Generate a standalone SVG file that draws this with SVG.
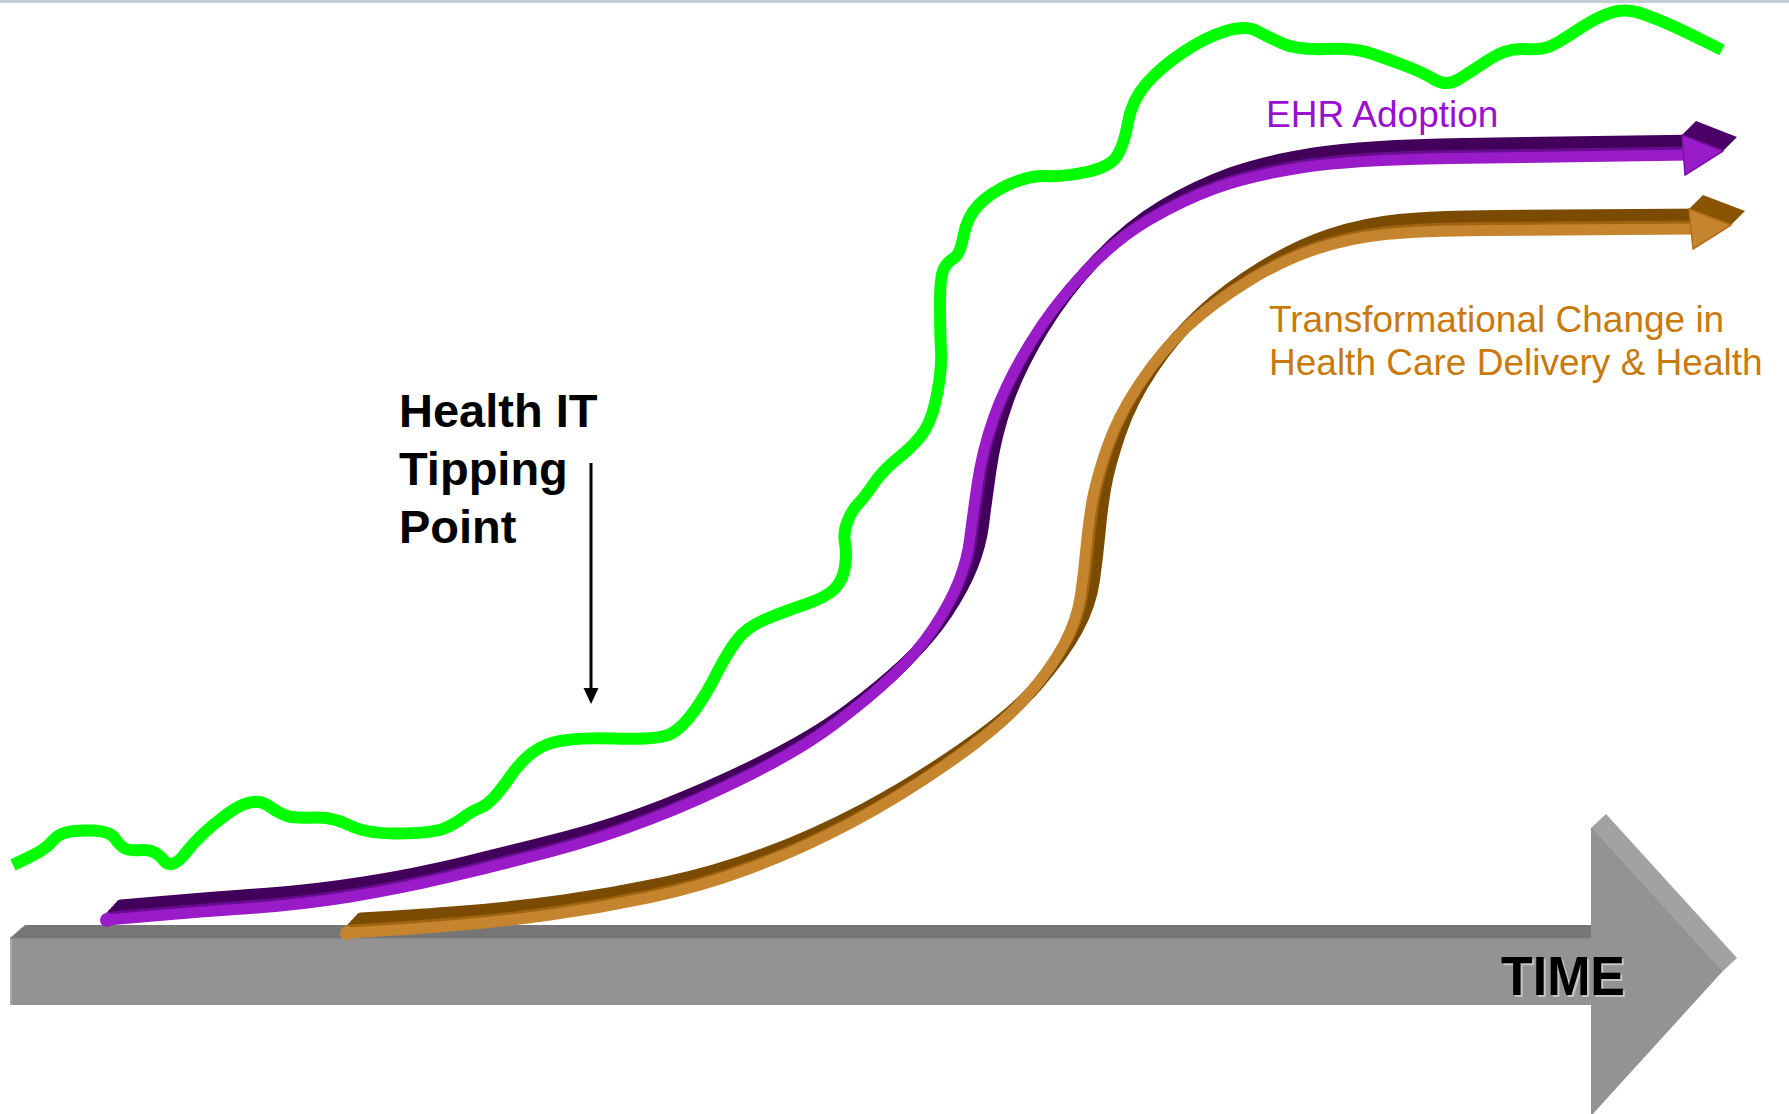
<svg xmlns="http://www.w3.org/2000/svg" xmlns:xlink="http://www.w3.org/1999/xlink" width="1789" height="1114" viewBox="0 0 1789 1114">
  <style>
    .lbl { font-family: "Liberation Sans", Arial, sans-serif; }
    .ehr { fill: #9a10cf; font-size: 37px; }
    .chg { fill: #c97a0c; font-size: 37px; }
    .tip { fill: #000; font-size: 47px; font-weight: bold; }
    .time { font-size: 55px; font-weight: bold; }
    .rib { fill: none; stroke-width: 11; stroke-linecap: round; stroke-linejoin: round; }
    .pdark { stroke: #42005a; }
    .pmid { stroke: #680c90; }
    .plight { stroke: #9a1cc8; }
    .odark { stroke: #7a4b00; }
    .omid { stroke: #a0640f; }
    .olight { stroke: #c5852f; }
  </style>
  <defs>
    <!-- front-face centre lines of the two ribbons -->
    <path id="ehrPath" d="M107,920 L153.5,916 Q200,912 250,908.5 Q300,905 350,897 Q400,889 450,877 Q500,865 550,852 Q600,839 650,819.5 Q700,800 750,775 Q800,750 833.5,725 Q867,700 892,676.5 Q917,653 933.5,628 Q950,603 958.5,581.5 Q967,560 969.5,540 Q972,520 977,485 Q982,450 994,416.5 Q1006,383 1029,345 Q1052,307 1083.5,273.5 Q1115,240 1149,220 Q1183,200 1216.5,188 Q1250,176 1300,168 Q1350,160 1450,158.5 Q1550,157 1690,155"/>
    <path id="chgPath" d="M347,933 L373.5,931.5 Q400,930 450,926 Q500,922 550,915 Q600,908 650,897.5 Q700,887 750,868.5 Q800,850 850,823.5 Q900,797 950,762 Q1000,727 1025,698.5 Q1050,670 1063.5,645 Q1077,620 1080.5,595 Q1084,570 1086,547.5 Q1088,525 1091.5,504 Q1095,483 1106,450 Q1117,417 1139.5,383.5 Q1162,350 1187.5,326.5 Q1213,303 1248,281.5 Q1283,260 1316.5,249 Q1350,238 1385,234.5 Q1420,231 1485,230.5 Q1550,230 1696,229"/>
  </defs>

  <rect x="0" y="0" width="1789" height="1114" fill="#ffffff"/>
  <rect x="0" y="0" width="1789" height="3" fill="#c5cdd9"/>

  <!-- time axis: extruded block arrow -->
  <g id="time-axis">
    <polygon points="10,938 25,925 1606,925 1591,938" fill="#767676"/>
    <polygon points="1591,828 1606,814 1737,958 1722,972" fill="#a2a2a2"/>
    <polygon points="10,938 1591,938 1591,828 1722,972 1591,1116 1591,1005 10,1005" fill="#939393"/>
    <line x1="11" y1="938" x2="11" y2="1005" stroke="#a8a8a8" stroke-width="2"/>
    <line x1="10" y1="938.5" x2="1591" y2="938.5" stroke="#8a8a8a" stroke-width="1"/>
    <line x1="1591" y1="828" x2="1722" y2="972" stroke="#8a8a8a" stroke-width="1"/>
    <text class="lbl time" x="1503" y="997" fill="#c4c4c4" textLength="124" lengthAdjust="spacingAndGlyphs">TIME</text>
    <text class="lbl time" x="1501" y="995" fill="#000" textLength="124" lengthAdjust="spacingAndGlyphs">TIME</text>
  </g>

  <!-- green trend line -->
  <g id="trend">
    <path d="M13,865 L29.5,857 Q46,849 51.5,842 Q57,835 66,832.5 Q75,830 92.5,830.5 Q110,831 115,838.5 Q120,846 125,848.5 Q130,851 142.5,850 Q155,849 163.5,860 Q172,871 186,852.5 Q200,834 226.5,814.5 Q253,795 268,805.5 Q283,816 291.5,817 Q300,818 316.5,817.5 Q333,817 350,825.5 Q367,834 400,833.5 Q433,833 444,828.5 Q455,824 462.5,818 Q470,812 481,807.5 Q492,803 509.5,777.5 Q527,752 547,744.5 Q567,737 613.5,738.5 Q660,740 671.5,733.5 Q683,727 695,710 Q707,693 717,673 Q727,653 737,640 Q747,627 765,619.5 Q783,612 805,604.5 Q827,597 835,588.5 Q843,580 845,566.5 Q847,553 845,543 Q843,533 847.5,521.5 Q852,510 858,504 Q864,498 873.5,484 Q883,470 900,456.5 Q917,443 925,430 Q933,417 937.5,392 Q942,367 941,350 Q940,333 940,305 Q940,277 943.5,269.5 Q947,262 953.5,258.5 Q960,255 963.5,236 Q967,217 978.5,205 Q990,193 1010,184 Q1030,175 1046.5,176 Q1063,177 1086.5,172 Q1110,167 1117,156 Q1124,145 1128,122.5 Q1132,100 1146.5,83.5 Q1161,67 1183.5,52 Q1206,37 1226,31 Q1246,25 1257,31 Q1268,37 1282.5,43.5 Q1297,50 1325.5,49 Q1354,48 1368,52.5 Q1382,57 1402,64.5 Q1422,72 1434.5,79.5 Q1447,87 1460,78.5 Q1473,70 1490,59 Q1507,48 1524,49 Q1541,50 1549.5,46.5 Q1558,43 1577.5,30 Q1597,17 1611.5,12.5 Q1626,8 1643,14 Q1660,20 1674,26.5 Q1688,33 1705,41.5 L1722,50" fill="none" stroke="#00ff00" stroke-width="12" stroke-linejoin="round"/>
  </g>

  <!-- transformational change ribbon (extruded up-right) -->
  <g id="change-ribbon">
    <use href="#chgPath" class="rib odark" transform="translate(14,-15)"/>
    <use href="#chgPath" class="rib odark" transform="translate(11.2,-12)"/>
    <use href="#chgPath" class="rib odark" transform="translate(8.4,-9)"/>
    <use href="#chgPath" class="rib odark" transform="translate(5.6,-6)"/>
    <use href="#chgPath" class="rib omid" transform="translate(2.8,-3)"/>
    <use href="#chgPath" class="rib olight"/>
    <circle cx="347" cy="933" r="7" fill="#c5852f"/>
    <polygon points="1689,209 1703,195 1745,211 1731,225 1693,249" fill="#8a5500"/>
    <polygon points="1689,209 1731,225 1693,249" fill="#c5852f" stroke="#b06f18" stroke-width="1.5" stroke-linejoin="round"/>
  </g>

  <!-- EHR adoption ribbon (extruded up-right) -->
  <g id="ehr-ribbon">
    <use href="#ehrPath" class="rib pdark" transform="translate(14,-15)"/>
    <use href="#ehrPath" class="rib pdark" transform="translate(11.2,-12)"/>
    <use href="#ehrPath" class="rib pdark" transform="translate(8.4,-9)"/>
    <use href="#ehrPath" class="rib pdark" transform="translate(5.6,-6)"/>
    <use href="#ehrPath" class="rib pmid" transform="translate(2.8,-3)"/>
    <use href="#ehrPath" class="rib plight"/>
    <circle cx="107" cy="920" r="7" fill="#9a1cc8"/>
    <polygon points="1682,135 1696,121 1737,137 1723,151 1685,175" fill="#4a0066"/>
    <polygon points="1682,135 1723,151 1685,175" fill="#9a1cc8" stroke="#7d10a8" stroke-width="1.5" stroke-linejoin="round"/>
  </g>

  <!-- labels -->
  <g id="ehr-label">
    <text class="lbl ehr" x="1266" y="127">EHR Adoption</text>
  </g>
  <g id="change-label">
    <text class="lbl chg" x="1269" y="332">Transformational Change in</text>
    <text class="lbl chg" x="1269" y="375">Health Care Delivery &amp; Health</text>
  </g>

  <!-- tipping point callout -->
  <g id="tipping-point">
    <text class="lbl tip" x="399" y="427">Health IT</text>
    <text class="lbl tip" x="399" y="485">Tipping</text>
    <text class="lbl tip" x="399" y="543">Point</text>
  </g>
  <g id="connectors">
    <line x1="591" y1="463" x2="591" y2="690" stroke="#000" stroke-width="3"/>
    <polygon points="583.5,688 598.5,688 591,704" fill="#000"/>
  </g>
</svg>
